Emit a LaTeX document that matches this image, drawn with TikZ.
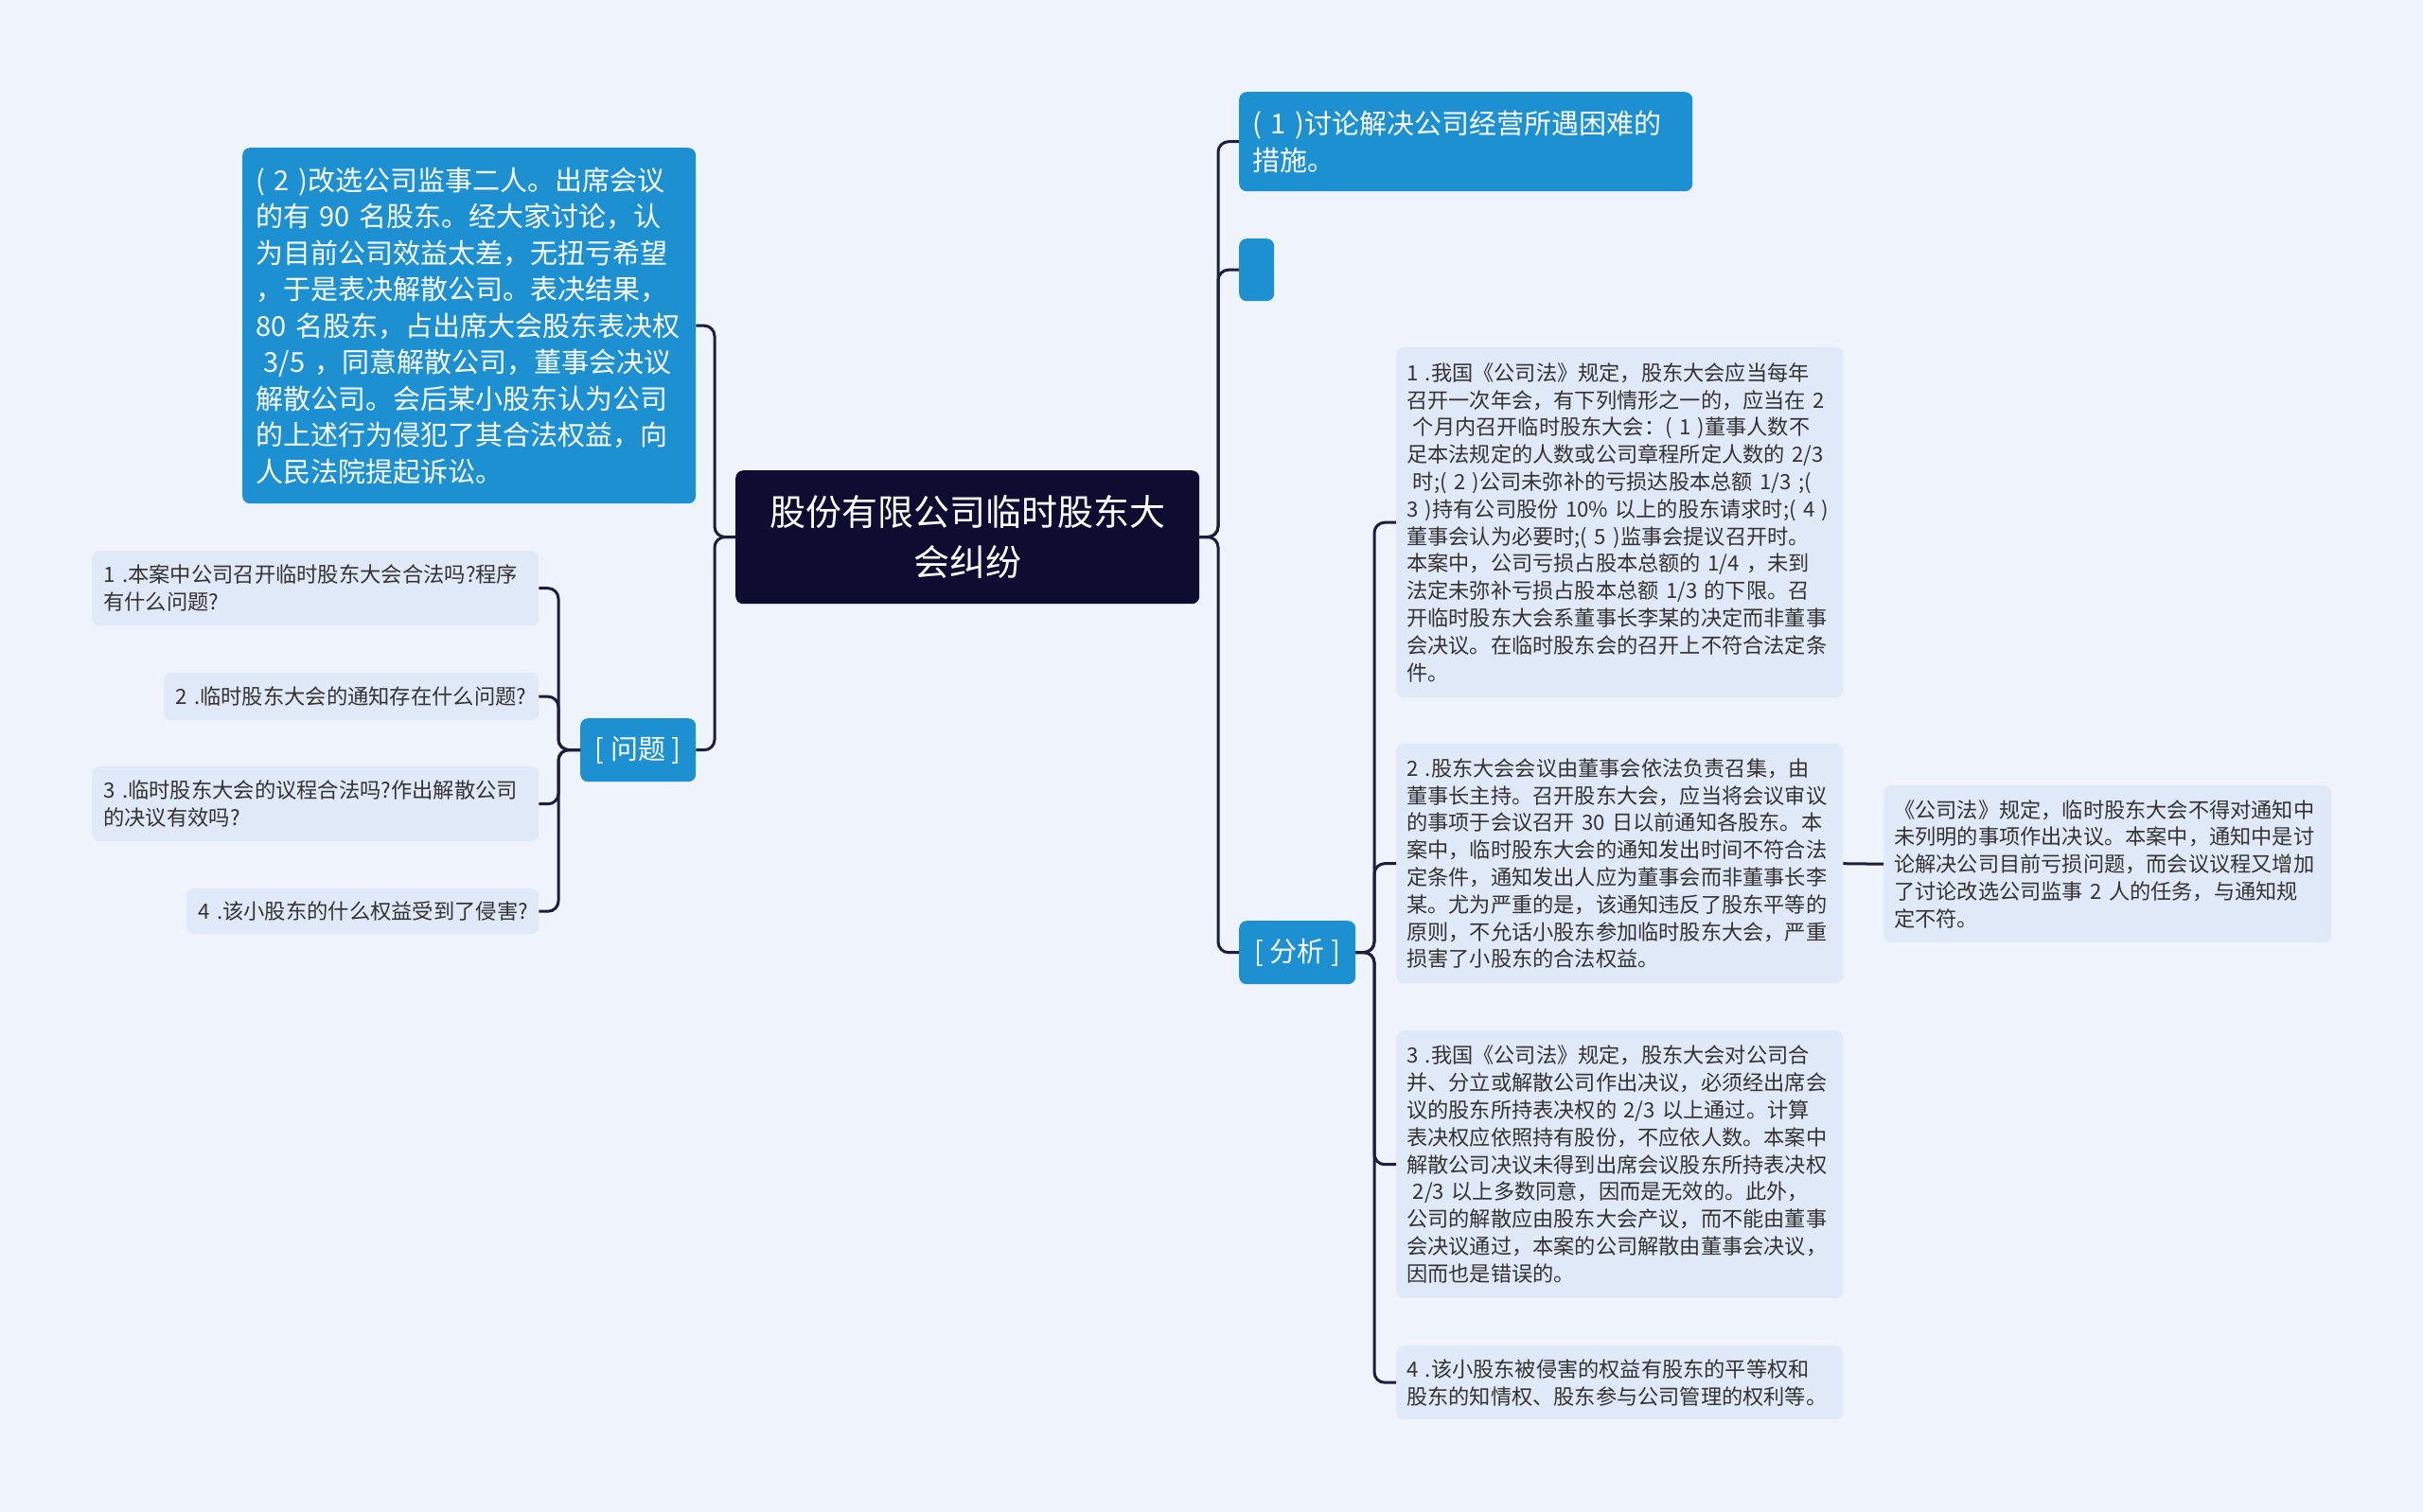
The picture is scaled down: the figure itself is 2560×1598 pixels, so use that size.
\documentclass[tikz,border=0pt]{standalone}
\usepackage{fontspec}
\setmainfont{Noto Sans CJK SC}
\definecolor{bgc}{HTML}{EEF3FC}
\definecolor{nodeblue}{HTML}{1C90D1}
\definecolor{navy}{HTML}{0E0C30}
\definecolor{lightc}{HTML}{E0E9F8}
\definecolor{txtc}{HTML}{333333}
\definecolor{linec}{HTML}{1F1D3D}
\tikzset{
  conn/.style={draw=linec, line width=3pt, rounded corners=11pt},
  titlebox/.style={anchor=north west, fill=navy, rounded corners=8pt, text=white, align=center, inner sep=0pt, font=\fontsize{38}{53}\selectfont},
  bluebox/.style={anchor=north west, fill=nodeblue, rounded corners=8pt, text=white, align=left, inner xsep=14pt, inner ysep=0pt, font=\fontsize{29}{38.5}\selectfont},
  tagbox/.style={anchor=north west, fill=nodeblue, rounded corners=8pt, text=white, align=center, inner sep=0pt, font=\fontsize{29}{38.5}\selectfont},
  qbox/.style={anchor=north west, fill=lightc, rounded corners=8pt, text=txtc, align=left, inner xsep=12pt, inner ysep=0pt, font=\fontsize{22.3}{29.5}\selectfont},
  abox/.style={anchor=north west, fill=lightc, rounded corners=8pt, text=txtc, align=left, inner xsep=11pt, inner ysep=0pt, font=\fontsize{22.2}{28.8}\selectfont},
}
\begin{document}
\begin{tikzpicture}[x=1pt,y=-1pt]
\useasboundingbox (0,0) rectangle (2560,1598);
\fill[bgc] (0,0) rectangle (2560,1598);

% central
\node[titlebox, minimum width=490pt, minimum height=141pt] (c) at (777,497) {股份有限公司临时股东大\\会纠纷};

% left side
\node[bluebox, minimum width=479pt, minimum height=376pt, text width=451pt] (b2) at (256,156) {(~2~)改选公司监事二人。出席会议\\的有~90~名股东。经大家讨论，认\\为目前公司效益太差，无扭亏希望\\，于是表决解散公司。表决结果，\\80~名股东，占出席大会股东表决权\\\hspace*{0.3em}3/5~，同意解散公司，董事会决议\\解散公司。会后某小股东认为公司\\的上述行为侵犯了其合法权益，向\\人民法院提起诉讼。};
\node[tagbox, minimum width=122pt, minimum height=67pt] (wt) at (613,759) {[~问题~]};

\node[qbox, minimum width=472pt, minimum height=79pt, text width=448pt] (q1) at (97,582) {1~.本案中公司召开临时股东大会合法吗?程序\\有什么问题?};
\node[qbox, minimum width=396pt, minimum height=50pt, text width=372pt] (q2) at (173,711) {2~.临时股东大会的通知存在什么问题?};
\node[qbox, minimum width=472pt, minimum height=79pt, text width=448pt] (q3) at (97,810) {3~.临时股东大会的议程合法吗?作出解散公司\\的决议有效吗?};
\node[qbox, minimum width=372pt, minimum height=48pt, text width=348pt] (q4) at (197,939) {4~.该小股东的什么权益受到了侵害?};

% right side
\node[bluebox, minimum width=479pt, minimum height=105pt, text width=451pt] (b1) at (1309,97) {(~1~)讨论解决公司经营所遇困难的\\措施。};
\node[tagbox, minimum width=37pt, minimum height=66pt] (e1) at (1309,252) {};
\node[tagbox, minimum width=123pt, minimum height=67pt] (fx) at (1309,973) {[~分析~]};

\node[abox, minimum width=472pt, minimum height=370pt, text width=450pt] (a1) at (1475,367) {1~.我国《公司法》规定，股东大会应当每年\\召开一次年会，有下列情形之一的，应当在~2\\\hspace*{0.3em}个月内召开临时股东大会：(~1~)董事人数不\\足本法规定的人数或公司章程所定人数的~2/3\\\hspace*{0.3em}时;(~2~)公司未弥补的亏损达股本总额~1/3~;(\\3~)持有公司股份~10\%~以上的股东请求时;(~4~)\\董事会认为必要时;(~5~)监事会提议召开时。\\本案中，公司亏损占股本总额的~1/4~，未到\\法定未弥补亏损占股本总额~1/3~的下限。召\\开临时股东大会系董事长李某的决定而非董事\\会决议。在临时股东会的召开上不符合法定条\\件。};
\node[abox, minimum width=472pt, minimum height=253pt, text width=450pt] (a2) at (1475,786) {2~.股东大会会议由董事会依法负责召集，由\\董事长主持。召开股东大会，应当将会议审议\\的事项于会议召开~30~日以前通知各股东。本\\案中，临时股东大会的通知发出时间不符合法\\定条件，通知发出人应为董事会而非董事长李\\某。尤为严重的是，该通知违反了股东平等的\\原则，不允话小股东参加临时股东大会，严重\\损害了小股东的合法权益。};
\node[abox, minimum width=472pt, minimum height=283pt, text width=450pt] (a3) at (1475,1089) {3~.我国《公司法》规定，股东大会对公司合\\并、分立或解散公司作出决议，必须经出席会\\议的股东所持表决权的~2/3~以上通过。计算\\表决权应依照持有股份，不应依人数。本案中\\解散公司决议未得到出席会议股东所持表决权\\\hspace*{0.3em}2/3~以上多数同意，因而是无效的。此外，\\公司的解散应由股东大会产议，而不能由董事\\会决议通过，本案的公司解散由董事会决议，\\因而也是错误的。};
\node[abox, minimum width=472pt, minimum height=78pt, text width=450pt] (a4) at (1475,1422) {4~.该小股东被侵害的权益有股东的平等权和\\股东的知情权、股东参与公司管理的权利等。};
\node[abox, minimum width=473pt, minimum height=166pt, text width=451pt] (r) at (1990,830) {《公司法》规定，临时股东大会不得对通知中\\未列明的事项作出决议。本案中，通知中是讨\\论解决公司目前亏损问题，而会议议程又增加\\了讨论改选公司监事~2~人的任务，与通知规\\定不符。};

% connector junctions
\coordinate (lj) at (755,567.5);
\coordinate (rj) at (1287,567.5);
\coordinate (qj) at (590,792.5);
\coordinate (aj) at (1452,1006.5);

\draw[conn] (c.west) -- (lj) |- (b2.east);
\draw[conn] (c.west) -- (lj) |- (wt.east);
\draw[conn] (c.east) -- (rj) |- (b1.west);
\draw[conn] (c.east) -- (rj) |- (e1.west);
\draw[conn] (c.east) -- (rj) |- (fx.west);

\draw[conn] (wt.west) -- (qj) |- (q1.east);
\draw[conn] (wt.west) -- (qj) |- (q2.east);
\draw[conn] (wt.west) -- (qj) |- (q3.east);
\draw[conn] (wt.west) -- (qj) |- (q4.east);

\draw[conn] (fx.east) -- (aj) |- (a1.west);
\draw[conn] (fx.east) -- (aj) |- (a2.west);
\draw[conn] (fx.east) -- (aj) |- (a3.west);
\draw[conn] (fx.east) -- (aj) |- (a4.west);

\draw[conn] (a2.east) -- (r.west);
\end{tikzpicture}
\end{document}
